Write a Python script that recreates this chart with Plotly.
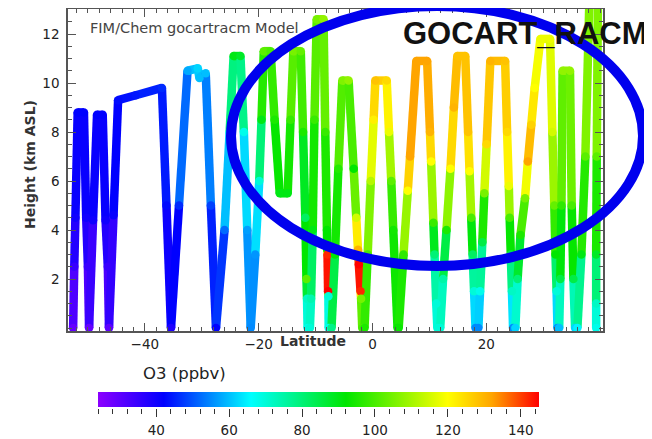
import plotly.graph_objects as go
from plotly.colors import sample_colorscale

# ---- flight track samples ----
lat = [-52.6, -52.4, -52.2, -51.8, -50.7, -50.3, -50.0, -49.8, -49.1, -48.4, -47.4, -46.9, -46.5, -46.3,
       -45.5, -44.7, -41.6,
       -37.0, -36.2, -35.4, -34.0, -32.5, -30.7, -30.4, -29.3, -28.4, -27.5, -26.0, -25.1, -24.4, -23.2,
       -22.6, -22.0, -21.4, -20.6, -19.9, -19.5, -19.1, -17.9, -17.2, -16.3, -14.9, -14.4, -13.9, -12.6,
       -12.2, -11.8, -11.6, -11.5, -11.4, -11.0, -10.8, -10.5, -10.2, -9.8, -8.6, -8.3, -8.0, -7.95,
       -7.9, -7.8, -7.75, -7.7, -7.2, -6.6, -6.0, -5.3, -4.2, -3.3, -2.85, -2.55, -2.4, -2.1, -2.0, -1.8,
       -1.4, -0.85, -0.3, 0.2, 0.5, 2.5, 2.9, 3.3, 3.65, 4.4, 4.6, 5.45, 6.2, 6.6, 7.7, 9.6, 10.1, 10.3,
       10.7, 10.9, 11.2, 11.4, 11.9, 12.4, 13.0, 13.7, 14.3, 14.9, 16.3, 16.8, 17.05, 17.35, 17.6, 17.85,
       18.1, 18.6, 18.9, 19.3, 19.65, 20.05, 20.7, 23.3, 23.65, 23.95, 24.1, 24.3, 24.5, 24.7, 25.1, 25.5,
       26.0, 26.8, 27.3, 27.9, 28.5, 29.5, 31.2, 31.6, 31.95, 32.15, 32.35, 32.5, 32.8, 33.0, 33.2, 33.4,
       34.7, 35.0, 35.3, 35.6, 36.0, 36.7, 37.4, 38.1, 39.6, 39.4, 39.3, 39.3, 39.3]
alt = [0.0, 2.5, 4.5, 8.8, 8.8, 4.5, 2.5, 0.0, 4.4, 8.7, 8.7, 4.4, 2.5, 0.0,
       4.6, 9.3, 9.5,
       9.8, 5.0, 0.0, 5.0, 10.5, 10.6, 10.2, 10.4, 5.0, 0.0, 4.0, 8.0, 11.1, 11.1,
       8.0, 4.0, 0.0, 3.0, 6.0, 8.5, 11.3, 11.3, 8.5, 5.5, 5.5, 8.5, 11.3, 11.3,
       8.0, 4.5, 2.0, 1.2, 0.0, 0.0, 1.2, 4.0, 8.5, 12.6, 12.6, 8.0, 4.0, 3.2,
       3.0, 1.5, 1.3, 0.0, 0.0, 3.0, 6.5, 10.1, 10.1, 6.5, 4.5, 3.2, 2.6, 1.5, 1.2, 0.0,
       0.0, 3.0, 6.0, 8.5, 10.1, 10.1, 8.0, 6.0, 4.0, 0.0, 0.0, 3.0, 5.6, 7.0, 10.9, 10.9, 8.0, 6.8,
       4.3, 3.0, 1.0, 0.0, 0.0, 2.0, 4.0, 6.5, 9.0, 11.1, 11.1, 8.0, 6.4, 4.5, 3.0, 1.5,
       0.0, 0.0, 1.5, 3.5, 5.5, 7.5, 10.9, 10.9, 8.0, 5.8, 4.5, 3.0, 1.5, 0.0, 0.0, 2.0,
       3.8, 5.3, 6.8, 8.3, 9.8, 11.8, 11.8, 8.0, 5.0, 3.0, 1.5, 0.0, 0.0, 2.0, 5.0, 10.5,
       10.5, 5.0, 2.0, 0.0, 0.0, 3.0, 7.0, 13.3, 13.3, 7.0, 3.0, 1.0, 0.0]
o3 = [29, 35, 40, 42, 42, 40, 35, 29, 40, 42, 42, 40, 35, 30,
      41, 43, 44,
      46, 43, 38, 46, 58, 62, 60, 60, 48, 42, 52, 68, 90, 88,
      68, 57, 55, 56, 70, 90, 102, 100, 95, 90, 90, 98, 105, 103,
      95, 82, 102, 72, 68, 70, 74, 90, 98, 105, 108, 98, 92, 92,
      142, 145, 70, 68, 78, 92, 96, 106, 108, 92, 115, 130, 145, 142, 105, 100,
      95, 100, 112, 122, 128, 125, 118, 102, 94, 93, 93, 97, 120, 132, 132, 132, 130, 120,
      98, 80, 70, 70, 70, 75, 95, 120, 130, 128, 128, 128, 120, 100, 82, 70,
      55, 55, 68, 85, 105, 125, 130, 128, 125, 118, 100, 85, 72, 55, 62, 80,
      95, 105, 132, 126, 120, 118, 118, 115, 103, 92, 70, 55, 60, 85, 97, 108,
      108, 100, 85, 62, 65, 90, 102, 110, 110, 102, 88, 72, 68]

O3_MIN, O3_MAX = 24, 145
cbar_labels = [40, 60, 80, 100, 120, 140]
lat_ticks = [-40, -20, 0, 20]
alt_ticks = [2, 4, 6, 8, 10, 12]

colorscale = [[0.0, "rgb(140,0,255)"], [0.149, "rgb(0,0,255)"], [0.347, "rgb(0,255,255)"],
              [0.562, "rgb(0,230,0)"], [0.793, "rgb(255,255,0)"], [0.893, "rgb(255,165,0)"],
              [1.0, "rgb(255,0,0)"]]

FONT = "DejaVu Sans"
TICKFONT = dict(family=FONT, size=13.5, color="#222")

# page body has an 8px margin: the figure starts at window (8, 8)
OFF = 8
W, H = 652 - OFF, 439 - OFF
# plot area in window pixels
X_L, X_R, Y_T, Y_B = 68, 603, 9, 331
L, R, T, B = X_L - OFF, W - (X_R - OFF), Y_T - OFF, 0
pw = X_R - X_L
ph = H - T - B  # paper height in px (window y 9 .. 439)
def px(wx): return (wx - X_L) / pw
def py(wy): return (439 - wy) / ph

fig = go.Figure()

# colour-bar scale axis (ticks under the bar); drawn first, below everything else
fig.add_trace(go.Scatter(x=[O3_MIN, O3_MAX], y=[0.5, 0.5], xaxis="x2", yaxis="y2", mode="lines",
                         line=dict(width=0, color="rgba(0,0,0,0)"), showlegend=False,
                         hoverinfo="skip"))

for i in range(len(lat) - 1):
    v = (o3[i] + o3[i + 1]) / 2
    c = sample_colorscale(colorscale, [(v - O3_MIN) / (O3_MAX - O3_MIN)])[0]
    fig.add_trace(go.Scatter(x=[lat[i], lat[i + 1]], y=[alt[i], alt[i + 1]], mode="lines",
                             line=dict(color=c, width=8.5), showlegend=False, hoverinfo="skip"))

fig.add_trace(go.Scatter(
    x=lat, y=alt, mode="markers", showlegend=False,
    marker=dict(color=o3, colorscale=colorscale, cmin=O3_MIN, cmax=O3_MAX, size=8.5,
                line=dict(width=0),
                colorbar=dict(orientation="h", x=px(318.5), xanchor="center", y=py(392), yanchor="top",
                              thickness=15, len=441, lenmode="pixels", xpad=0, ypad=0,
                              outlinewidth=0, ticks="", showticklabels=False))))

axis_common = dict(showgrid=False, zeroline=False, showline=True, linecolor="#555", linewidth=1.5,
                   mirror="ticks", ticks="inside", ticklen=8, tickwidth=1, tickcolor="#555",
                   tickfont=TICKFONT)

fig.update_layout(
    xaxis=dict(range=[-53.5, 40.5], tickvals=lat_ticks, domain=[0, 1], anchor="y",
               minor=dict(dtick=2, tick0=0, ticks="inside", ticklen=4, tickcolor="#555"),
               **axis_common),
    yaxis=dict(range=[-0.12, 13.02], tickvals=alt_ticks, domain=[py(Y_B), 1], anchor="x",
               ticklabelstandoff=4,
               minor=dict(dtick=0.5, tick0=0, ticks="inside", ticklen=4, tickcolor="#555"),
               **axis_common),
    xaxis2=dict(range=[O3_MIN, O3_MAX], domain=[px(98), px(539)], anchor="y2", side="bottom",
                tickmode="array", tickvals=cbar_labels, ticks="outside", ticklen=8, tickwidth=1.3,
                tickcolor="#333",
                minor=dict(tick0=O3_MIN, dtick=4, ticks="outside", ticklen=5, tickwidth=1.3,
                           tickcolor="#333"),
                showline=False, showgrid=False, zeroline=False, tickfont=TICKFONT,
                ticklabelstandoff=2),
    yaxis2=dict(range=[0, 1], domain=[py(408), py(392)], anchor="x2",
                showline=False, showgrid=False, zeroline=False, showticklabels=False, ticks=""),
)

fig.add_shape(type="circle", xref="paper", yref="paper",
              x0=px(231), x1=px(643), y0=py(266), y1=py(6),
              line=dict(color="#0000ee", width=10), layer="above")

fig.add_annotation(text="FIM/Chem gocartracm Model", xref="paper", yref="paper",
                   x=px(88), y=py(28), xanchor="left", yanchor="middle", showarrow=False,
                   font=dict(family=FONT, size=14.5, color="#444"))
fig.add_annotation(text="GOCART_RACM", xref="paper", yref="paper",
                   x=px(401), y=py(33), xanchor="left", yanchor="middle", showarrow=False,
                   font=dict(family="Liberation Sans", size=31, color="#111", weight="bold"))
fig.add_annotation(text="Height (km ASL)", xref="paper", yref="paper", textangle=-90,
                   x=px(30), y=py(165), xanchor="center", yanchor="middle", showarrow=False,
                   font=dict(family=FONT, size=14, color="#333", weight="bold"))
fig.add_annotation(text="Latitude", xref="paper", yref="paper",
                   x=px(313), y=py(341), xanchor="center", yanchor="middle", showarrow=False,
                   font=dict(family=FONT, size=14, color="#333", weight="bold"))
fig.add_annotation(text="O3 (ppbv)", xref="paper", yref="paper",
                   x=px(184), y=py(373), xanchor="center", yanchor="middle", showarrow=False,
                   font=dict(family=FONT, size=16.5, color="#222"))

fig.update_layout(width=W, height=H, margin=dict(l=L, r=R, t=T, b=B, autoexpand=False),
                  paper_bgcolor="white", plot_bgcolor="white", showlegend=False)

fig.write_html("out.html")
